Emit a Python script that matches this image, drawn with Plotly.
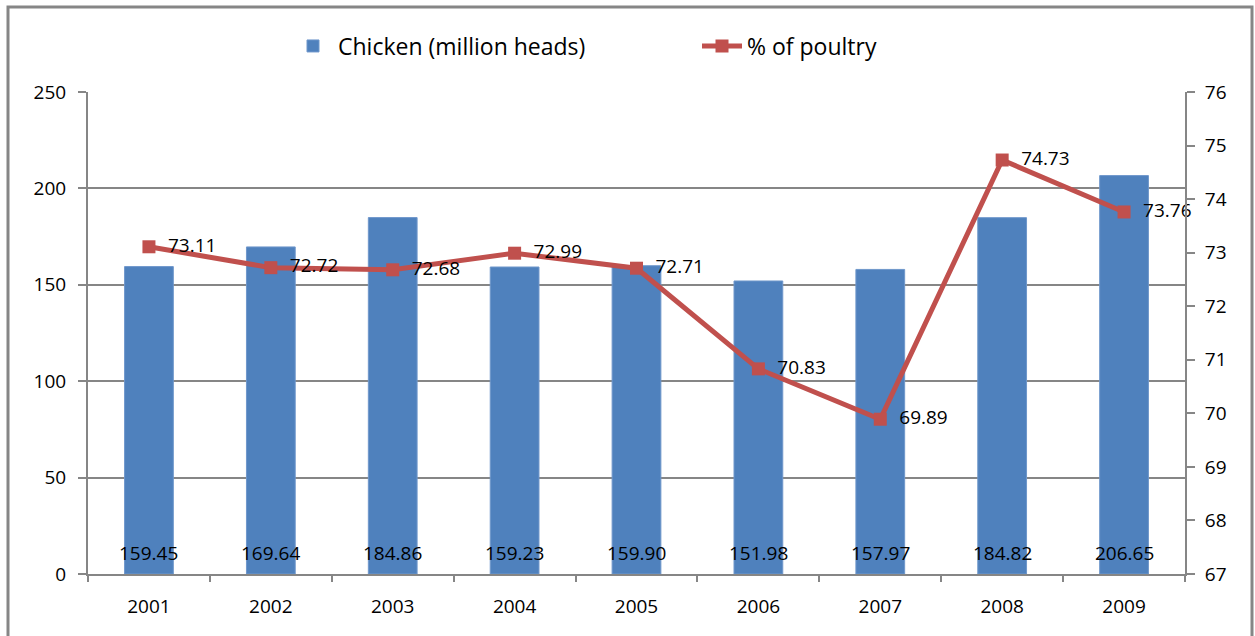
import plotly.graph_objects as go

years = ["2001", "2002", "2003", "2004", "2005", "2006", "2007", "2008", "2009"]
chicken = [159.45, 169.64, 184.86, 159.23, 159.90, 151.98, 157.97, 184.82, 206.65]
poultry_pct = [73.11, 72.72, 72.68, 72.99, 72.71, 70.83, 69.89, 74.73, 73.76]

FONT = "Open Sans"
GRID = "#868686"
BAR = "#4F81BD"
LINE = "#C0504D"

W, H = 1255, 636
L, R, T, B = 88, 70, 92, 62

fig = go.Figure()

fig.add_trace(go.Bar(
    x=years, y=chicken, name="Chicken (million heads)",
    marker=dict(color=BAR, line=dict(color="#6F97CB", width=1)),
    width=0.4,
))

fig.add_trace(go.Scatter(
    x=years, y=poultry_pct, name="% of poultry", yaxis="y2",
    mode="lines+markers+text",
    line=dict(color=LINE, width=5),
    marker=dict(symbol="square", size=13, color=LINE),
    text=[f"{v:.2f}" for v in poultry_pct],
    texttemplate="\u00a0\u00a0%{text}",
    textposition="middle right",
    textfont=dict(family=FONT, size=19, color="black"),
    cliponaxis=False,
))

# bar value labels sit just above the base of each bar (x given as category index)
bar_labels = [
    dict(x=i, y=0, xref="x", yref="y", text=f"{v:.2f}", showarrow=False,
         yanchor="bottom", yshift=6, font=dict(family=FONT, size=19, color="black"))
    for i, v in enumerate(chicken)
]

pw = W - L - R
ph = H - T - B
def px(x):
    return (x - L) / pw
def py(y):
    return (H - B - y) / ph

fig.update_layout(
    width=W, height=H,
    margin=dict(l=L, r=R, t=T, b=B),
    paper_bgcolor="white", plot_bgcolor="white",
    font=dict(family=FONT, size=19, color="black"),
    showlegend=True,
    legend=dict(orientation="h", x=px(288), xanchor="left", y=py(46), yanchor="middle",
                font=dict(family=FONT, size=23), itemwidth=40,
                traceorder="normal", entrywidth=354),
    annotations=bar_labels,
    xaxis=dict(
        type="category", categoryarray=years, range=[-0.5, len(years) - 0.5],
        showline=True, linecolor=GRID, linewidth=2,
        ticks="outside", tickson="boundaries", ticklen=6, tickcolor=GRID, tickwidth=2,
        showgrid=False, tickfont=dict(family=FONT, size=19), ticklabelstandoff=14,
        tickangle=0,
    ),
    yaxis=dict(
        range=[0, 250], dtick=50, showline=True, linecolor=GRID, linewidth=2,
        ticks="outside", ticklen=8, tickcolor=GRID, tickwidth=2,
        showgrid=True, gridcolor=GRID, gridwidth=2, zeroline=False,
        tickfont=dict(family=FONT, size=19), ticklabelstandoff=8,
    ),
    yaxis2=dict(
        overlaying="y", side="right", range=[67, 76], dtick=1,
        showline=True, linecolor=GRID, linewidth=2,
        ticks="outside", ticklen=8, tickcolor=GRID, tickwidth=2,
        showgrid=False, zeroline=False,
        tickfont=dict(family=FONT, size=19), ticklabelstandoff=6,
    ),
    shapes=[dict(
        type="rect", xref="paper", yref="paper",
        x0=px(8), x1=px(1252), y0=py(640), y1=py(7),
        line=dict(color=GRID, width=3), fillcolor="rgba(0,0,0,0)", layer="below",
    )],
)

fig.write_html("out.html")
